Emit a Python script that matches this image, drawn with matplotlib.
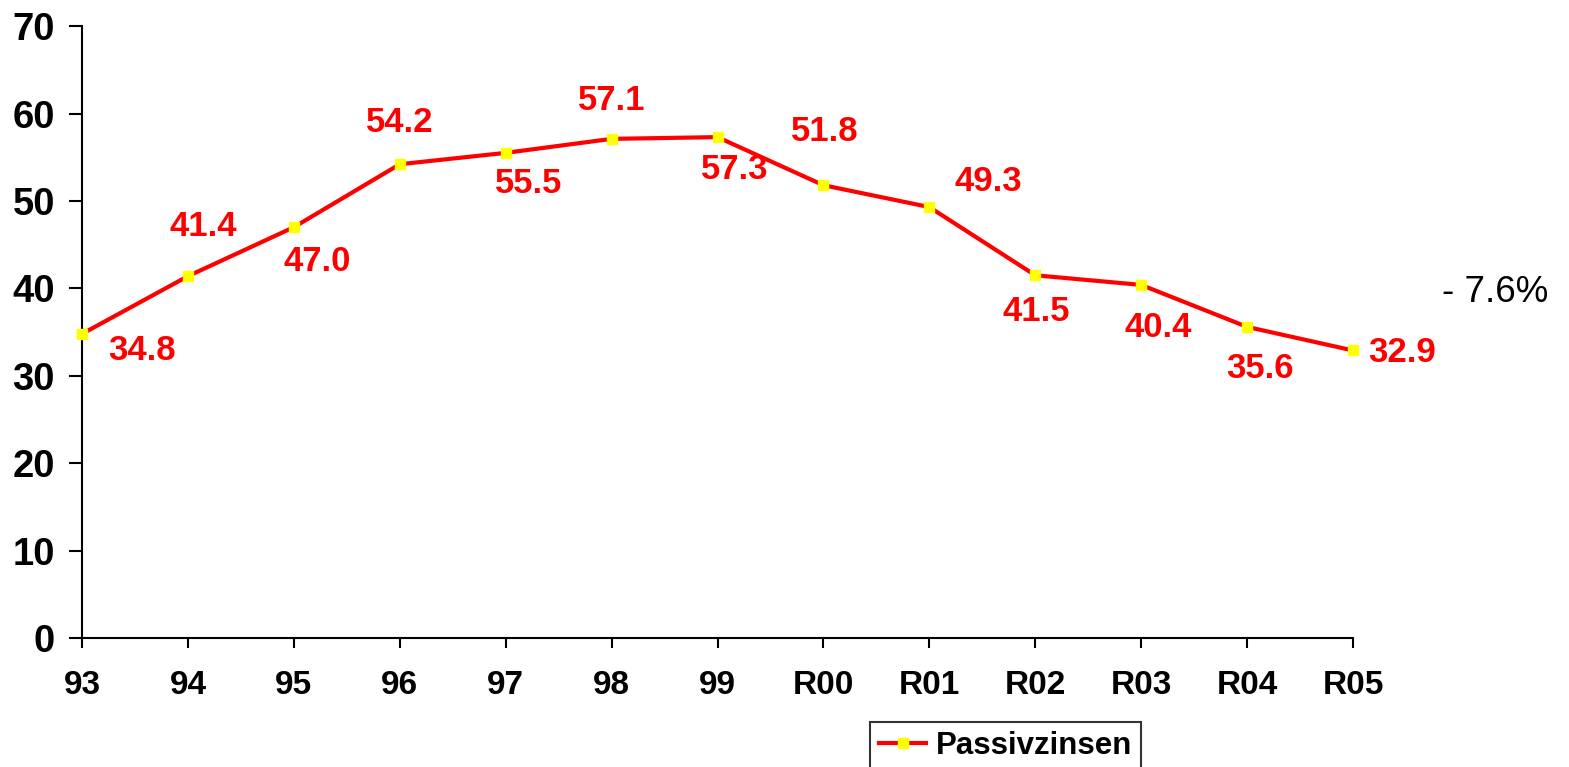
import matplotlib
matplotlib.use("Agg")
import matplotlib.pyplot as plt

years = ["93", "94", "95", "96", "97", "98", "99", "R00", "R01", "R02", "R03", "R04", "R05"]
values = [34.8, 41.4, 47.0, 54.2, 55.5, 57.1, 57.3, 51.8, 49.3, 41.5, 40.4, 35.6, 32.9]
# label offsets in pixels (dx, dy) relative to each point
offsets = [(60, -17), (15, 50), (23, -34), (0, 42), (23, -31), (0, 38), (17, -32),
           (1, 54), (59, 26), (1, -36), (17, -43), (13, -42), (49, -2)]

plt.rcParams["font.family"] = ["Liberation Sans", "DejaVu Sans"]

fig = plt.figure(figsize=(15.69, 7.67), dpi=100)
ax = fig.add_axes([0.0523, 0.168, 0.8100, 0.798])

x = list(range(len(years)))
ax.plot(x, values, color="#FF0000", lw=3.0, marker="s", ms=7,
        mfc="#FFFF00", mec="#FFFF00", label="Passivzinsen", zorder=3, clip_on=False)

for xi, v, (dx, dy) in zip(x, values, offsets):
    ax.annotate(f"{v:.1f}", (xi, v), xytext=(dx, dy), textcoords="offset pixels",
                ha="center", va="center", color="#FF0000", fontsize=25,
                fontweight="bold")

ax.set_xlim(0, len(years) - 1)
ax.set_ylim(0, 70)
ax.set_yticks(range(0, 71, 10))
ax.set_xticks(x)
ax.set_xticklabels(years)
for s in ["top", "right"]:
    ax.spines[s].set_visible(False)
for s in ["left", "bottom"]:
    ax.spines[s].set_linewidth(1.5)
ax.tick_params(axis="y", labelsize=27.5, length=9.5, width=1.5, pad=10)
ax.tick_params(axis="x", labelsize=24, length=7, width=1.5, pad=16)
for t in ax.get_xticklabels() + ax.get_yticklabels():
    t.set_fontweight("bold")

fig.text(1495 / 1569, 1 - 293 / 767, "- 7.6%", fontsize=26.5, ha="center", va="center")

leg = ax.legend(loc="upper left", bbox_to_anchor=(870 / 1569, 45 / 767),
                bbox_transform=fig.transFigure, frameon=True, borderaxespad=0,
                fancybox=False, handlelength=1.5, borderpad=0.3, handletextpad=0.3,
                prop={"weight": "bold", "size": 22.5})
leg.get_frame().set_edgecolor("black")
leg.get_frame().set_linewidth(1.5)

fig.savefig("out.png", dpi=100)
